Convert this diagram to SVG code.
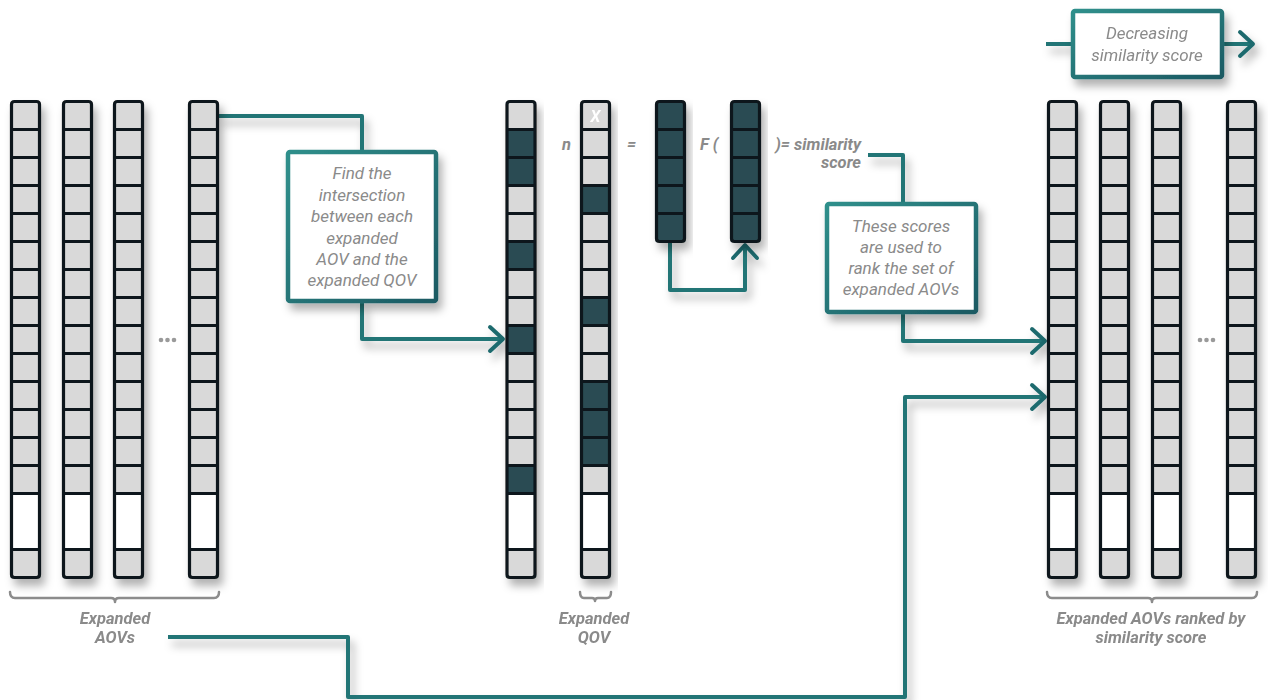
<svg xmlns="http://www.w3.org/2000/svg" xmlns:xlink="http://www.w3.org/1999/xlink" width="1268" height="700" viewBox="0 0 1268 700">
<style>
.cell{fill:#d9d9d9}
.dark{fill:#2c4b53}
.grid{fill:none;stroke:#0e171a;stroke-width:3.2;stroke-linejoin:round}
.box{fill:#fff;stroke:url(#tealGrad);stroke-width:4.5}
.btxt{font-family:Roboto,"Liberation Sans",sans-serif;font-style:italic;font-size:17px;fill:#8a8a8a;text-anchor:middle}
.lbl{font-family:Roboto,"Liberation Sans",sans-serif;font-style:italic;font-weight:700;font-size:16.5px;fill:#8a8a8a;text-anchor:middle}
.frm{font-family:Roboto,"Liberation Sans",sans-serif;font-style:italic;font-weight:700;font-size:16.5px;fill:#8a8a8a}
.conn{fill:none;stroke:#237576;stroke-width:4;stroke-linejoin:round}
.brace{fill:none;stroke:#8c8c8c;stroke-width:2.5;stroke-linecap:round;stroke-linejoin:round}
.dot{fill:#9a9a9a}
</style>
<defs>
<linearGradient id="tealGrad" x1="0" y1="0" x2="1" y2="1">
<stop offset="0" stop-color="#2f8f8b"/>
<stop offset="1" stop-color="#1c5a63"/>
</linearGradient>
<filter id="sh" x="-30%" y="-30%" width="160%" height="160%">
<feDropShadow dx="4" dy="7" stdDeviation="4" flood-color="#000" flood-opacity="0.3"/>
</filter>
<marker id="chev" viewBox="-18 -16 22 32" refX="0" refY="0" markerWidth="22" markerHeight="32" markerUnits="userSpaceOnUse" orient="auto">
<path d="M-13,-12 L0,0 L-13,12" fill="none" stroke="#1f6a6e" stroke-width="4" stroke-linecap="round" stroke-linejoin="round"/>
</marker>
<g id="colBase">
<rect class="cell" x="0" y="0" width="28" height="476" rx="3"/>
<rect x="0" y="392" width="28" height="56" fill="#fff"/>
</g>
<path id="colGrid" class="grid" d="M0,28H28M0,56H28M0,84H28M0,112H28M0,140H28M0,168H28M0,196H28M0,224H28M0,252H28M0,280H28M0,308H28M0,336H28M0,364H28M0,392H28M0,448H28M3,0H25Q28,0 28,3V473Q28,476 25,476H3Q0,476 0,473V3Q0,0 3,0Z"/>
<path id="shortGrid" class="grid" d="M0,28H28M0,56H28M0,84H28M0,112H28M3,0H25Q28,0 28,3V137Q28,140 25,140H3Q0,140 0,137V3Q0,0 3,0Z"/>
</defs>

<g id="connectors" filter="url(#sh)">
<path class="conn" d="M219,116H362V151"/>
<path class="conn" d="M362,302V339H503" marker-end="url(#chev)"/>
<path class="conn" d="M868,155H903V203"/>
<path class="conn" d="M903,313V341H1045" marker-end="url(#chev)"/>
<path class="conn" d="M168,637H348V697H905V397H1045" marker-end="url(#chev)"/>
<path class="conn" d="M670,243V290H745V245" marker-end="url(#chev)"/>
<path class="conn" d="M1046,44H1072"/>
<path class="conn" d="M1223,44H1253" marker-end="url(#chev)"/>
</g>

<g id="aov-columns" filter="url(#sh)">
<g id="aov1" transform="translate(11.5,101.5)"><use href="#colBase"/><use href="#colGrid"/></g>
<g id="aov2" transform="translate(63.5,101.5)"><use href="#colBase"/><use href="#colGrid"/></g>
<g id="aov3" transform="translate(114.5,101.5)"><use href="#colBase"/><use href="#colGrid"/></g>
<g id="aov4" transform="translate(189.5,101.5)"><use href="#colBase"/><use href="#colGrid"/></g>
</g>
<g id="dots-left"><circle class="dot" cx="161" cy="340" r="2.3"/><circle class="dot" cx="167.5" cy="340" r="2.3"/><circle class="dot" cx="174" cy="340" r="2.3"/></g>

<g id="aov-selected" filter="url(#sh)" transform="translate(507,101.5)">
<use href="#colBase"/>
<rect class="dark" x="0" y="28" width="28" height="56"/>
<rect class="dark" x="0" y="140" width="28" height="28"/>
<rect class="dark" x="0" y="224" width="28" height="28"/>
<rect class="dark" x="0" y="364" width="28" height="28"/>
<use href="#colGrid"/>
</g>

<g id="qov" filter="url(#sh)" transform="translate(581.5,101.5)">
<use href="#colBase"/>
<rect class="dark" x="0" y="84" width="28" height="28"/>
<rect class="dark" x="0" y="196" width="28" height="28"/>
<rect class="dark" x="0" y="280" width="28" height="84"/>
<use href="#colGrid"/>
<text x="14" y="20" font-family="Roboto,'Liberation Sans',sans-serif" font-style="italic" font-weight="700" font-size="16" fill="#fff" text-anchor="middle">X</text>
</g>

<g id="intersection" filter="url(#sh)" transform="translate(656.5,101.5)">
<rect class="dark" x="0" y="0" width="28" height="140" rx="3"/>
<use href="#shortGrid"/>
</g>
<g id="f-input" filter="url(#sh)" transform="translate(731.5,101.5)">
<rect class="dark" x="0" y="0" width="28" height="140" rx="3"/>
<use href="#shortGrid"/>
</g>

<g id="formula">
<text class="frm" x="562" y="150">n</text>
<text class="frm" x="627" y="150">=</text>
<text class="frm" x="700" y="150">F (</text>
<text class="frm" x="861" y="150" text-anchor="end">)= similarity</text>
<text class="frm" x="861" y="168" text-anchor="end">score</text>
</g>

<g id="ranked-columns" filter="url(#sh)">
<g id="r1" transform="translate(1048.5,101.5)"><use href="#colBase"/><use href="#colGrid"/></g>
<g id="r2" transform="translate(1100.5,101.5)"><use href="#colBase"/><use href="#colGrid"/></g>
<g id="r3" transform="translate(1152.5,101.5)"><use href="#colBase"/><use href="#colGrid"/></g>
<g id="r4" transform="translate(1227.5,101.5)"><use href="#colBase"/><use href="#colGrid"/></g>
</g>
<g id="dots-right"><circle class="dot" cx="1200" cy="340" r="2.3"/><circle class="dot" cx="1206.5" cy="340" r="2.3"/><circle class="dot" cx="1213" cy="340" r="2.3"/></g>

<g id="box-intersection">
<rect class="box" x="288" y="152" width="148" height="149" rx="2" filter="url(#sh)"/>
<text class="btxt" x="362" y="179">Find the</text>
<text class="btxt" x="362" y="201">intersection</text>
<text class="btxt" x="362" y="222">between each</text>
<text class="btxt" x="362" y="244">expanded</text>
<text class="btxt" x="362" y="265">AOV and the</text>
<text class="btxt" x="362" y="286">expanded QOV</text>
</g>

<g id="box-rank">
<rect class="box" x="827" y="204" width="149" height="108" rx="2" filter="url(#sh)"/>
<text class="btxt" x="901" y="232">These scores</text>
<text class="btxt" x="901" y="253">are used to</text>
<text class="btxt" x="901" y="274">rank the set of</text>
<text class="btxt" x="901" y="295">expanded AOVs</text>
</g>

<g id="box-decreasing">
<rect class="box" x="1073" y="11" width="149" height="66" rx="2" filter="url(#sh)"/>
<text class="btxt" x="1147" y="39">Decreasing</text>
<text class="btxt" x="1147" y="61">similarity score</text>
</g>

<g id="label-aovs">
<path class="brace" d="M10,592Q10,598 15,598H111Q115,598 115,602Q115,598 119,598H214Q219,598 219,592"/>
<text class="lbl" x="115" y="624">Expanded</text>
<text class="lbl" x="115" y="643">AOVs</text>
</g>
<g id="label-qov">
<path class="brace" d="M580,592Q580,598 584,598H592Q595,598 595,601Q595,598 598,598H607Q611,598 611,592"/>
<text class="lbl" x="594" y="624">Expanded</text>
<text class="lbl" x="594" y="643">QOV</text>
</g>
<g id="label-ranked">
<path class="brace" d="M1047,592Q1047,598 1052,598H1148Q1152,598 1152,602Q1152,598 1156,598H1252Q1257,598 1257,592"/>
<text class="lbl" x="1151" y="624">Expanded AOVs ranked by</text>
<text class="lbl" x="1151" y="643">similarity score</text>
</g>
</svg>
